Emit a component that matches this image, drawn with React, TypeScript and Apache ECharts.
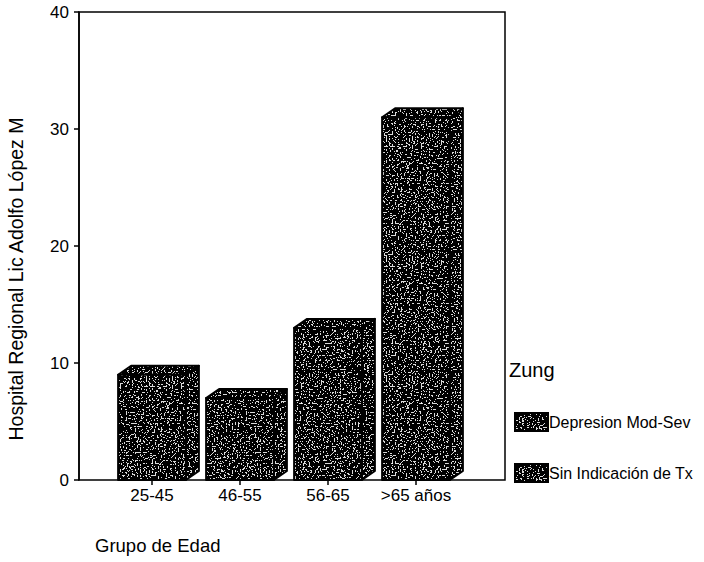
import React, { useEffect, useRef } from "react";
import * as echarts from "echarts";

const categories = ["25-45", "46-55", "56-65", ">65 años"];
const values = [9, 7, 13, 31];
const yMin = 0;
const yMax = 40;
const yInterval = 10;
const legendTitle = "Zung";
const legendItems = ["Depresion Mod-Sev", "Sin Indicación de Tx"];
const yTitle = "Hospital Regional Lic Adolfo López M";
const xTitle = "Grupo de Edad";

const FONT = "'Liberation Sans', Arial, sans-serif";

const noiseSvg =
  "<svg xmlns='http://www.w3.org/2000/svg' width='120' height='120'>" +
  "<filter id='n' x='0' y='0' width='100%' height='100%'>" +
  "<feTurbulence type='fractalNoise' baseFrequency='0.65' numOctaves='1' seed='7' stitchTiles='stitch'/>" +
  "<feColorMatrix type='saturate' values='0'/>" +
  "<feComponentTransfer>" +
  "<feFuncR type='discrete' tableValues='0 0 0 0 0.7 1 1'/>" +
  "<feFuncG type='discrete' tableValues='0 0 0 0 0.7 1 1'/>" +
  "<feFuncB type='discrete' tableValues='0 0 0 0 0.7 1 1'/>" +
  "<feFuncA type='table' tableValues='1 1'/>" +
  "</feComponentTransfer>" +
  "</filter>" +
  "<rect width='120' height='120' fill='#000'/>" +
  "<rect width='120' height='120' filter='url(#n)'/>" +
  "</svg>";
const noiseUrl = "data:image/svg+xml;charset=utf-8," + encodeURIComponent(noiseSvg);

export default function App() {
  const ref = useRef<HTMLDivElement>(null);

  useEffect(() => {
    document.body.style.margin = "0";
    const chart = echarts.init(ref.current as HTMLDivElement, null, { renderer: "svg" });

    const pattern: any = {
      image: noiseUrl,
      repeat: "repeat",
      imageWidth: 120,
      imageHeight: 120,
    };

    const faceStyle = () => ({
      fill: pattern,
      stroke: "#000",
      lineWidth: 2,
      lineJoin: "round",
    });

    const renderItem = (params: any, api: any) => {
      const i = api.value(0);
      const v = api.value(1);
      const top = api.coord([i, v]);
      const base = api.coord([i, 0]);
      const band = api.size([1, 0])[0];
      const w = band * 0.77;
      const dx = 13;
      const dy = 9;
      const x0 = top[0] - w / 2;
      const x1 = top[0] + w / 2;
      const yt = top[1];
      const yb = base[1];
      return {
        type: "group",
        children: [
          {
            type: "polygon",
            shape: { points: [[x1, yt], [x1 + dx, yt - dy], [x1 + dx, yb - dy], [x1, yb]] },
            style: faceStyle(),
          },
          {
            type: "polygon",
            shape: { points: [[x0, yt], [x0 + dx, yt - dy], [x1 + dx, yt - dy], [x1, yt]] },
            style: faceStyle(),
          },
          {
            type: "rect",
            shape: { x: x0, y: yt, width: w, height: yb - yt },
            style: faceStyle(),
          },
        ],
      };
    };

    const option: any = {
      animation: false,
      backgroundColor: "#fff",
      textStyle: { fontFamily: FONT, color: "#000" },
      title: {
        text: legendTitle,
        left: 509,
        top: 360,
        padding: 0,
        textStyle: { fontSize: 20, fontWeight: "normal", color: "#000", fontFamily: FONT },
      },
      legend: {
        orient: "vertical",
        left: 514,
        top: 412,
        itemWidth: 33,
        itemHeight: 18,
        itemGap: 31,
        padding: 0,
        selectedMode: false,
        icon: "rect",
        data: legendItems,
        textStyle: { fontSize: 16, color: "#000", fontFamily: FONT, padding: [0, 0, 0, -4] },
      },
      grid: [
        { left: 79, right: 199, top: 12, bottom: 82, show: true, borderColor: "#000", borderWidth: 1.5 },
        { left: 108, right: 244, top: 12, bottom: 82 },
      ],
      xAxis: [
        { type: "value", gridIndex: 0, min: 0, max: 1, show: false },
        {
          type: "category",
          gridIndex: 1,
          data: categories,
          boundaryGap: true,
          axisLine: { show: false },
          axisTick: { show: true, alignWithLabel: true, interval: 0, length: 5, lineStyle: { color: "#000", width: 1.5 } },
          axisLabel: { fontSize: 17, color: "#000", margin: 7, fontFamily: FONT, interval: 0, hideOverlap: false },
        },
      ],
      yAxis: [
        {
          type: "value",
          gridIndex: 0,
          min: yMin,
          max: yMax,
          interval: yInterval,
          axisLine: { show: true, lineStyle: { color: "#000", width: 1.5 } },
          axisTick: { show: true, length: 5, lineStyle: { color: "#000", width: 1.5 } },
          axisLabel: { fontSize: 17, color: "#000", margin: 10, fontFamily: FONT },
          splitLine: { show: false },
        },
        { type: "value", gridIndex: 1, min: yMin, max: yMax, show: false },
      ],
      series: [
        {
          name: legendItems[0],
          type: "custom",
          xAxisIndex: 1,
          yAxisIndex: 1,
          renderItem,
          clip: false,
          itemStyle: { color: pattern, borderColor: "#000", borderWidth: 1 },
          data: values.map((v, i) => [i, v]),
          z: 5,
        },
        {
          name: legendItems[1],
          type: "custom",
          xAxisIndex: 1,
          yAxisIndex: 1,
          renderItem,
          itemStyle: { color: pattern, borderColor: "#000", borderWidth: 1 },
          data: [],
        },
      ],
      graphic: [
        {
          type: "text",
          x: 16,
          y: 279,
          rotation: Math.PI / 2,
          style: {
            text: yTitle,
            font: `19.5px ${FONT}`,
            fill: "#000",
            align: "center",
            verticalAlign: "middle",
          },
        },
        {
          type: "text",
          x: 95,
          y: 545,
          style: {
            text: xTitle,
            font: `18.5px ${FONT}`,
            fill: "#000",
            align: "left",
            verticalAlign: "middle",
          },
        },
      ],
    };

    chart.setOption(option);
    return () => chart.dispose();
  }, []);

  return <div ref={ref} style={{ width: 704, height: 562 }} />;
}
